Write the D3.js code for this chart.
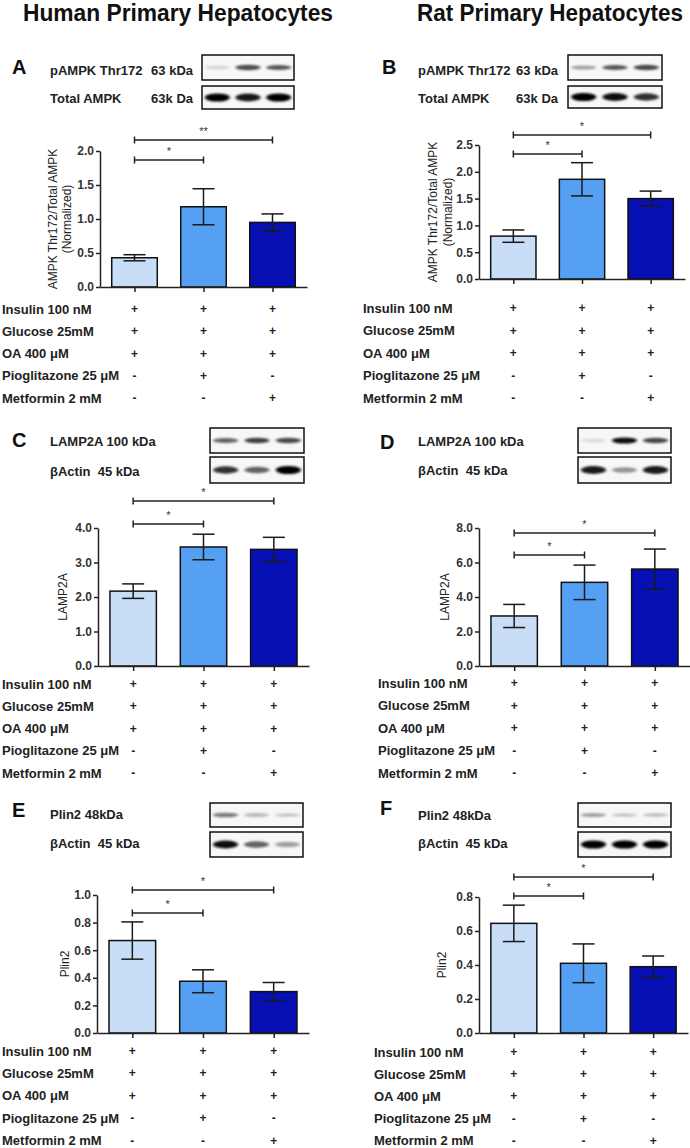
<!DOCTYPE html>
<html><head><meta charset="utf-8">
<script src="https://cdn.jsdelivr.net/npm/d3@7"></script>
<style>
body{margin:0;background:#fff;}
svg{display:block;font-family:"Liberation Sans",Arial,sans-serif;}
</style></head>
<body><svg id="fig" width="690" height="1148"></svg>
<script>
// ---------------- DATA ----------------
const groups = ["Control", "Pioglitazone", "Metformin"];
const treatments = ["Insulin 100 nM", "Glucose 25mM", "OA 400 μM", "Pioglitazone 25 μM", "Metformin 2 mM"];
const treatmentSigns = [["+","+","+"],["+","+","+"],["+","+","+"],["-","+","-"],["-","-","+"]];
const columnTitles = ["Human Primary Hepatocytes", "Rat Primary Hepatocytes"];

const meansA = [0.43, 1.18, 0.95];  const semsA = [0.045, 0.265, 0.125];
const meansB = [0.80, 1.86, 1.50];  const semsB = [0.115, 0.31, 0.14];
const meansC = [2.17, 3.45, 3.38];  const semsC = [0.21, 0.37, 0.35];
const meansD = [2.90, 4.85, 5.62];  const semsD = [0.67, 1.00, 1.16];
const meansE = [0.67, 0.375, 0.30]; const semsE = [0.135, 0.083, 0.066];
const meansF = [0.645, 0.41, 0.39]; const semsF = [0.107, 0.114, 0.063];

const ticksA = [0, 0.5, 1.0, 1.5, 2.0];
const ticksB = [0, 0.5, 1.0, 1.5, 2.0, 2.5];
const ticksC = [0, 1, 2, 3, 4];
const ticksD = [0, 2, 4, 6, 8];
const ticksE = [0, 0.2, 0.4, 0.6, 0.8, 1.0];
const ticksF = [0, 0.2, 0.4, 0.6, 0.8];

const sigPairs = [[0, 1], [0, 2]];
const sigA = ["*", "**"];
const sigB = ["*", "*"];
const sigC = ["*", "*"];
const sigD = ["*", "*"];
const sigE = ["*", "*"];
const sigF = ["*", "*"];

const yTitleAB = ["AMPK Thr172/Total AMPK", "(Normalized)"];
const yTitleCD = ["LAMP2A"];
const yTitleEF = ["Plin2"];

const blotNamesAB = [["pAMPK Thr172", "63 kDa"], ["Total AMPK", "63k Da"]];
const blotNamesCD = [["LAMP2A 100 kDa", ""], ["βActin  45 kDa", ""]];
const blotNamesEF = [["Plin2 48kDa", ""], ["βActin  45 kDa", ""]];

// band intensities per lane (upper blot, lower blot)
const bandsA = [[0.15, 0.7, 0.65], [1.0, 0.9, 1.0]];
const bandsB = [[0.35, 0.65, 0.7], [1.0, 0.95, 0.8]];
const bandsC = [[0.6, 0.75, 0.7], [0.8, 0.6, 1.0]];
const bandsD = [[0.12, 0.95, 0.7], [0.9, 0.4, 0.9]];
const bandsE = [[0.5, 0.25, 0.2], [0.95, 0.6, 0.35]];
const bandsF = [[0.35, 0.2, 0.22], [1.0, 1.0, 1.0]];

const barColors = ["#c8ddf6", "#55a0f2", "#0710b2"];

// ---------------- LAYOUT ----------------
const panels = [
  {letter:"A", means:meansA, sems:semsA, ticks:ticksA, fmt:".1f", sig:sigA, ytitle:yTitleAB, blotNames:blotNamesAB, bands:bandsA,
   lx:12, ly:67, nameX:50, mwX:193, rowsY:[70,98], box:[202,294], boxY:[[55,80],[86,109]],
   x0:100, x1:307, yb:287, yt:151, brY:[160,140], ytX:[53,67], tabX:2, tabY:309, tabStep:22.3},
  {letter:"B", means:meansB, sems:semsB, ticks:ticksB, fmt:".1f", sig:sigB, ytitle:yTitleAB, blotNames:blotNamesAB, bands:bandsB,
   lx:382, ly:67, nameX:418, mwX:558, rowsY:[70,98], box:[568,662], boxY:[[55,80],[86,108]],
   x0:479, x1:685, yb:279, yt:145, brY:[154,135], ytX:[433,448], tabX:363, tabY:308, tabStep:22.5},
  {letter:"C", means:meansC, sems:semsC, ticks:ticksC, fmt:".1f", sig:sigC, ytitle:yTitleCD, blotNames:blotNamesCD, bands:bandsC,
   lx:12, ly:440, nameX:50, mwX:0, rowsY:[441,471], box:[210,304], boxY:[[428,453],[457,483]],
   x0:98, x1:309, yb:666, yt:528, brY:[524,501], ytX:[63], tabX:2, tabY:684, tabStep:22.3},
  {letter:"D", means:meansD, sems:semsD, ticks:ticksD, fmt:".1f", sig:sigD, ytitle:yTitleCD, blotNames:blotNamesCD, bands:bandsD,
   lx:380, ly:442, nameX:418, mwX:0, rowsY:[441,470], box:[578,671], boxY:[[428,453],[457,483]],
   x0:479, x1:690, yb:666, yt:528, brY:[555,533], ytX:[445], tabX:378, tabY:683, tabStep:22.5},
  {letter:"E", means:meansE, sems:semsE, ticks:ticksE, fmt:".1f", sig:sigE, ytitle:yTitleEF, blotNames:blotNamesEF, bands:bandsE,
   lx:12, ly:810, nameX:50, mwX:0, rowsY:[814,843], box:[210,303], boxY:[[803,827],[832,857]],
   x0:97, x1:309, yb:1033, yt:895, brY:[913,890], ytX:[65], tabX:2, tabY:1051, tabStep:22.4},
  {letter:"F", means:meansF, sems:semsF, ticks:ticksF, fmt:".1f", sig:sigF, ytitle:yTitleEF, blotNames:blotNamesEF, bands:bandsF,
   lx:380, ly:808, nameX:418, mwX:0, rowsY:[815,843], box:[578,671], boxY:[[803,827],[832,857]],
   x0:479, x1:688, yb:1033, yt:897, brY:[896,877], ytX:[442], tabX:374, tabY:1052, tabStep:22.2}
];

const svg = d3.select("#fig");
const defs = svg.append("defs");
defs.append("filter").attr("id","blur").attr("x","-50%").attr("y","-100%").attr("width","200%").attr("height","300%")
  .append("feGaussianBlur").attr("stdDeviation","1.8 1.2");

// titles
svg.append("text").attr("x",23).attr("y",21).attr("font-size",23).attr("font-weight","bold")
  .attr("textLength",310).attr("lengthAdjust","spacingAndGlyphs").attr("fill","#111").text(columnTitles[0]);
svg.append("text").attr("x",417).attr("y",21).attr("font-size",23).attr("font-weight","bold")
  .attr("textLength",266).attr("lengthAdjust","spacingAndGlyphs").attr("fill","#111").text(columnTitles[1]);

panels.forEach(p => {
  const g = svg.append("g");
  // letter
  g.append("text").attr("x",p.lx).attr("y",p.ly+7).attr("font-size",20).attr("font-weight","bold").attr("fill","#111").text(p.letter);
  // blot labels and boxes
  const lane = d3.scalePoint().domain(groups).range(p.box).padding(0.5);
  p.blotNames.forEach((nm,i) => {
    g.append("text").attr("x",p.nameX).attr("y",p.rowsY[i]+4.5).attr("font-size",13).attr("font-weight","bold").attr("fill","#222")
      .attr("xml:space","preserve").style("white-space","pre").text(nm[0]);
    if (nm[1]) g.append("text").attr("x",p.mwX).attr("y",p.rowsY[i]+4.5).attr("text-anchor","end").attr("font-size",13)
      .attr("font-weight","bold").attr("fill","#222").text(nm[1]);
    const [by0,by1] = p.boxY[i];
    g.append("rect").attr("x",p.box[0]).attr("y",by0).attr("width",p.box[1]-p.box[0]).attr("height",by1-by0)
      .attr("fill","#f7f7f7").attr("stroke","#111").attr("stroke-width",1.5);
    const bh = i===0 ? 2.6 : 3.4;
    g.append("g").attr("filter","url(#blur)").selectAll("ellipse").data(p.bands[i]).join("ellipse")
      .attr("cx",(d,j)=>lane(groups[j])).attr("cy",(by0+by1)/2)
      .attr("rx",12.5).attr("ry",d=>bh*(0.6+0.6*d))
      .attr("fill","#000").attr("opacity",d=>d);
  });

  // chart scales
  const x = d3.scalePoint().domain(groups).range([p.x0,p.x1]).padding(0.5);
  const step = x.step();
  const bw = step*0.66;
  const y = d3.scaleLinear().domain([0, d3.max(p.ticks)]).range([p.yb,p.yt]);

  // bars
  g.selectAll("rect.bar").data(p.means).join("rect").attr("class","bar")
    .attr("x",(d,i)=>x(groups[i])-bw/2).attr("y",d=>y(d)).attr("width",bw).attr("height",d=>y(0)-y(d))
    .attr("fill",(d,i)=>barColors[i]).attr("stroke","#111").attr("stroke-width",1.5);
  // error bars
  const eb = g.append("g").attr("stroke","#1a1a1a").attr("stroke-width",1.5);
  p.means.forEach((m,i)=>{
    const cx = x(groups[i]), lo=y(m-p.sems[i]), hi=y(m+p.sems[i]);
    eb.append("line").attr("x1",cx).attr("x2",cx).attr("y1",lo).attr("y2",hi);
    eb.append("line").attr("x1",cx-11).attr("x2",cx+11).attr("y1",lo).attr("y2",lo);
    eb.append("line").attr("x1",cx-11).attr("x2",cx+11).attr("y1",hi).attr("y2",hi);
  });

  // axes
  const ya = g.append("g").attr("transform",`translate(${p.x0},0)`)
    .call(d3.axisLeft(y).tickValues(p.ticks).tickFormat(d3.format(p.fmt)).tickSize(4).tickSizeOuter(0).tickPadding(2));
  const xa = g.append("g").attr("transform",`translate(0,${p.yb})`)
    .call(d3.axisBottom(x).tickFormat("").tickSize(5).tickSizeOuter(0));
  [ya,xa].forEach(a=>{
    a.selectAll("path,line").attr("stroke","#222").attr("stroke-width",1.5);
    a.selectAll("text").attr("font-size",12).attr("font-weight","bold").attr("fill","#333")
      .attr("font-family","'Liberation Sans',Arial,sans-serif");
  });

  // y title
  const ymid = (p.yb+p.yt)/2;
  p.ytitle.forEach((t,i)=>{
    g.append("text").attr("transform",`translate(${p.ytX[i]+4},${ymid}) rotate(-90)`).attr("text-anchor","middle")
      .attr("font-size",12).attr("fill","#222").text(t);
  });

  // significance brackets
  sigPairs.forEach((pr,k)=>{
    const xa0 = x(groups[pr[0]]), xa1 = x(groups[pr[1]]), by = p.brY[k];
    const bg = g.append("g").attr("stroke","#222").attr("stroke-width",1.5);
    bg.append("line").attr("x1",xa0).attr("x2",xa1).attr("y1",by).attr("y2",by);
    bg.append("line").attr("x1",xa0).attr("x2",xa0).attr("y1",by-3.5).attr("y2",by+3.5);
    bg.append("line").attr("x1",xa1).attr("x2",xa1).attr("y1",by-3.5).attr("y2",by+3.5);
    g.append("text").attr("x",(xa0+xa1)/2).attr("y",by-5).attr("text-anchor","middle")
      .attr("font-size",11).attr("fill","#333").text(p.sig[k]);
  });

  // treatment table
  treatments.forEach((t,r)=>{
    const ty = p.tabY + r*p.tabStep;
    g.append("text").attr("x",p.tabX).attr("y",ty+4.5).attr("font-size",13).attr("font-weight","bold").attr("fill","#222").text(t);
    treatmentSigns[r].forEach((s,j)=>{
      g.append("text").attr("x",x(groups[j])).attr("y",ty+4).attr("text-anchor","middle")
        .attr("font-size",12).attr("font-weight","bold").attr("fill","#222").text(s);
    });
  });
});
</script></body></html>
